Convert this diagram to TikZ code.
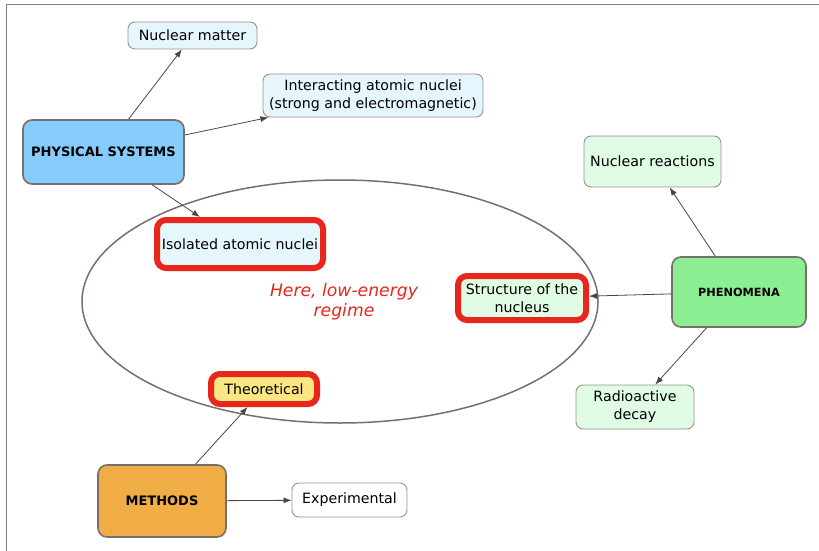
\documentclass[tikz,border=0pt]{standalone}
\usepackage{fontspec}
\setmainfont{DejaVu Sans}
\usetikzlibrary{arrows.meta}

\definecolor{paleblue}{RGB}{230,246,253}
\definecolor{skyblue}{RGB}{135,203,251}
\definecolor{palegreen}{RGB}{224,252,228}
\definecolor{leafgreen}{RGB}{140,238,146}
\definecolor{paleyellow}{RGB}{252,230,130}
\definecolor{orangefill}{RGB}{240,173,70}
\definecolor{hired}{RGB}{232,38,28}
\definecolor{edgegray}{RGB}{150,146,146}
\definecolor{topicgray}{RGB}{120,110,110}
\definecolor{linkgray}{RGB}{70,70,70}

\begin{document}
\begin{tikzpicture}[x=1pt, y=1pt,
    concept/.style={rectangle, rounded corners=7pt, draw=edgegray, line width=0.9pt,
        align=center, inner sep=0pt, font=\fontsize{14.2}{18}\selectfont},
    topic/.style={rectangle, rounded corners=9pt, draw=topicgray, line width=1.6pt,
        inner sep=0pt, font=\bfseries\fontsize{13}{16}\selectfont},
    hilite/.style={concept, draw=hired, line width=6pt, rounded corners=9pt},
    link/.style={-{Latex[length=8pt,width=6pt]}, draw=linkgray, line width=0.8pt}]
    \useasboundingbox (0,0) rectangle (819,-551);
    \draw[gray, line width=1pt] (6,-551) -- (6,-5) -- (819,-5);

    % the low-energy regime
    \draw[topicgray, line width=1.5pt] (340,-301.5) ellipse [x radius=258, y radius=121.5];
    \node[text=hired, align=center, font=\itshape\fontsize{17.2}{20}\selectfont] (regime)
        at (344,-302) {Here, low-energy\\regime};

    % physical systems
    \node[topic, fill=skyblue, minimum width=161, minimum height=64] (phys) at (103.5,-152) {PHYSICAL SYSTEMS};
    \node[concept, fill=paleblue, minimum width=129, minimum height=27] (matter) at (192.5,-35.5) {Nuclear matter};
    \node[concept, fill=paleblue, minimum width=220, minimum height=43] (interact) at (373,-95.5)
        {Interacting atomic nuclei\\(strong and electromagnetic)};
    \node[hilite, fill=paleblue, minimum width=166, minimum height=48] (isolated) at (240,-244) {Isolated atomic nuclei};

    % phenomena
    \node[topic, fill=leafgreen, minimum width=134, minimum height=70,
        font=\bfseries\fontsize{11.3}{14}\selectfont] (phen) at (739,-292) {PHENOMENA};
    \node[concept, fill=palegreen, minimum width=137, minimum height=51] (reactions) at (652.5,-161.5) {Nuclear reactions};
    \node[hilite, fill=palegreen, minimum width=128, minimum height=44] (structure) at (522,-298) {Structure of the\\nucleus};
    \node[concept, fill=palegreen, minimum width=118, minimum height=44] (decay) at (635,-407) {Radioactive\\decay};

    % methods
    \node[topic, fill=orangefill, minimum width=128, minimum height=72] (methods) at (162,-501) {METHODS};
    \node[hilite, fill=paleyellow, minimum width=106, minimum height=30] (theory) at (264,-389) {Theoretical};
    \node[concept, fill=white, minimum width=115, minimum height=34] (experiment) at (349.5,-500) {Experimental};

    \draw[link] (phys) -- (matter);
    \draw[link] (phys) -- (interact);
    \draw[link] (phys) -- (isolated);
    \draw[link] (phen) -- (reactions);
    \draw[link] (phen) -- (structure);
    \draw[link] (phen) -- (decay);
    \draw[link] (methods) -- (theory);
    \draw[link] (methods) -- (experiment);
\end{tikzpicture}
\end{document}
